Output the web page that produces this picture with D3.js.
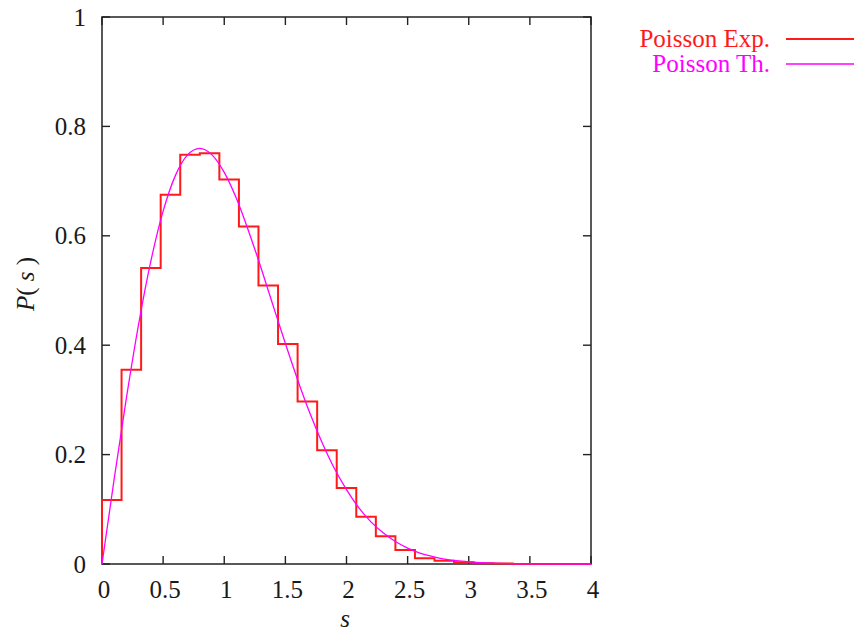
<!DOCTYPE html>
<html>
<head>
<meta charset="utf-8">
<script src="https://cdn.jsdelivr.net/npm/d3@7"></script>
<style>
  html, body { margin: 0; padding: 0; background: #fff; }
  svg { display: block; }
</style>
</head>
<body>
<script>
// Level-spacing histogram (bin width 0.16 on [0, 4]) and theoretical curve
const binWidth = 0.16;
const binCounts = [0.117, 0.355, 0.541, 0.675, 0.748, 0.751, 0.703, 0.617, 0.509, 0.402,
                   0.297, 0.208, 0.139, 0.0865, 0.0506, 0.0256, 0.0104, 0.006, 0.003, 0.0015,
                   0.001, 0, 0, 0, 0];

const curveS = [0, 0.1, 0.2, 0.3, 0.4, 0.5, 0.6, 0.7, 0.8, 0.9, 1.0, 1.1, 1.2, 1.3, 1.4,
                1.5, 1.6, 1.7, 1.8, 1.9, 2.0, 2.1, 2.2, 2.3, 2.4, 2.5, 2.6, 2.7, 2.8, 2.9,
                3.0, 3.2, 3.5, 4.0];
const curveP = [0, 0.156, 0.304, 0.439, 0.554, 0.645, 0.710, 0.748, 0.760, 0.748, 0.716,
                0.668, 0.608, 0.542, 0.472, 0.403, 0.337, 0.276, 0.222, 0.175, 0.136,
                0.103, 0.077, 0.057, 0.041, 0.029, 0.020, 0.014, 0.009, 0.006, 0.004,
                0.0016, 0.0003, 0];

const xTicks = [0, 0.5, 1, 1.5, 2, 2.5, 3, 3.5, 4];
const yTicks = [0, 0.2, 0.4, 0.6, 0.8, 1];
const seriesNames = ["Poisson Exp.", "Poisson Th."];
const seriesColors = ["#ff1a1a", "#ff00ff"];

const W = 854, H = 635;
const serif = '"Liberation Serif"';
const svg = d3.select("body").append("svg").attr("width", W).attr("height", H);

const x = d3.scaleLinear().domain([0, 4]).range([102, 591]);
const y = d3.scaleLinear().domain([0, 1]).range([564, 17]);

const frameColor = "#222";
const textColor = "#1a1a1a";
const tickLen = 8;
const fontSize = 25;

// Tick marks pointing inward on all four sides
const tickG = svg.append("g").attr("stroke", frameColor).attr("stroke-width", 1.4);
xTicks.forEach(t => {
  tickG.append("line").attr("x1", x(t)).attr("x2", x(t)).attr("y1", y(0)).attr("y2", y(0) - tickLen);
  tickG.append("line").attr("x1", x(t)).attr("x2", x(t)).attr("y1", y(1)).attr("y2", y(1) + tickLen);
});
yTicks.forEach(t => {
  tickG.append("line").attr("x1", x(0)).attr("x2", x(0) + tickLen).attr("y1", y(t)).attr("y2", y(t));
  tickG.append("line").attr("x1", x(4)).attr("x2", x(4) - tickLen).attr("y1", y(t)).attr("y2", y(t));
});

// Tick labels
svg.append("g").selectAll("text").data(xTicks).join("text")
  .attr("x", d => x(d) + 2)
  .attr("y", 598)
  .attr("text-anchor", "middle")
  .style("font-family", serif)
  .style("font-size", fontSize + "px")
  .style("fill", textColor)
  .text(d => d3.format("~g")(d));

svg.append("g").selectAll("text").data(yTicks).join("text")
  .attr("x", 86)
  .attr("y", d => y(d))
  .attr("dy", "0.34em")
  .attr("text-anchor", "end")
  .style("font-family", serif)
  .style("font-size", fontSize + "px")
  .style("fill", textColor)
  .text(d => d3.format("~g")(d));

// Axis titles
svg.append("text")
  .attr("x", 345).attr("y", 627)
  .attr("text-anchor", "middle")
  .style("font-family", serif)
  .style("font-size", fontSize + "px")
  .style("font-style", "italic")
  .style("fill", textColor)
  .text("s");

const yTitle = svg.append("text")
  .attr("transform", "translate(34,284) rotate(-90)")
  .attr("text-anchor", "middle")
  .style("font-family", serif)
  .style("font-size", fontSize + "px")
  .style("fill", textColor);
yTitle.append("tspan").style("font-style", "italic").text("P");
yTitle.append("tspan").text("( ");
yTitle.append("tspan").style("font-style", "italic").text("s");
yTitle.append("tspan").text(" )");

// Histogram as a step line
const stepPts = [[0, 0]].concat(binCounts.map((v, i) => [i * binWidth, v]),
                               [[binCounts.length * binWidth, binCounts[binCounts.length - 1]]]);
const stepLine = d3.line().x(d => x(d[0])).y(d => y(d[1])).curve(d3.curveStepAfter);

// Frame
svg.append("rect")
  .attr("x", x(0)).attr("y", y(1))
  .attr("width", x(4) - x(0)).attr("height", y(0) - y(1))
  .attr("fill", "none").attr("stroke", frameColor).attr("stroke-width", 1.5);

svg.append("path")
  .attr("d", stepLine(stepPts))
  .attr("fill", "none")
  .attr("stroke", seriesColors[0])
  .attr("stroke-width", 2);

// Theoretical curve
const thLine = d3.line().x(d => x(d[0])).y(d => y(d[1])).curve(d3.curveMonotoneX);
svg.append("path")
  .attr("d", thLine(curveS.map((s, i) => [s, curveP[i]])))
  .attr("fill", "none")
  .attr("stroke", seriesColors[1])
  .attr("stroke-width", 1.3);

// Legend
const legendY = [39, 64];
seriesNames.forEach((name, i) => {
  svg.append("text")
    .attr("x", 770).attr("y", legendY[i])
    .attr("dy", "0.32em")
    .attr("text-anchor", "end")
    .style("font-family", serif)
    .style("font-size", fontSize + "px")
    .style("fill", seriesColors[i])
    .text(name);
  svg.append("line")
    .attr("x1", 786).attr("x2", 854)
    .attr("y1", legendY[i]).attr("y2", legendY[i])
    .attr("stroke", seriesColors[i])
    .attr("stroke-width", i === 0 ? 2 : 1.3);
});
</script>
</body>
</html>
